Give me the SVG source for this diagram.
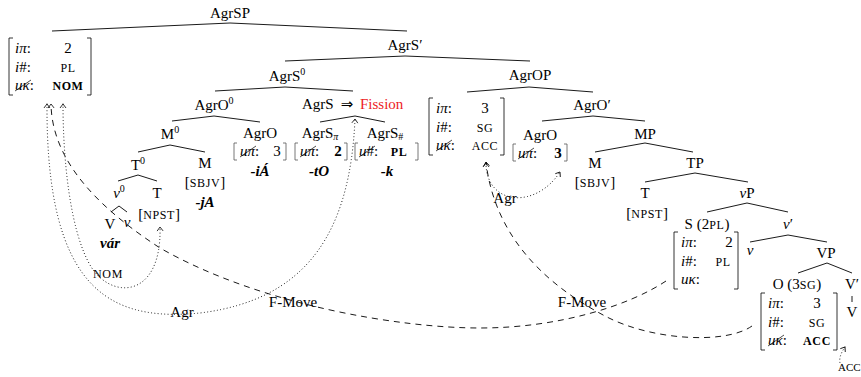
<svg xmlns="http://www.w3.org/2000/svg" width="861" height="377" viewBox="0 0 861 377">
<style>
text{font-family:'Liberation Serif','DejaVu Serif',serif;font-size:15px;fill:#000}
.m{text-anchor:middle}
.s{text-anchor:start}
.sc{font-size:12px;letter-spacing:0.6px}
.it{font-style:italic}
.bf{font-weight:bold}
.sup{font-size:10px}
.arr{font-family:'DejaVu Sans',sans-serif;font-size:15px}
.br{fill:none;stroke:#000;stroke-width:0.8}
.ib{fill:none;stroke:#555;stroke-width:0.8}
.cx{stroke:#000;stroke-width:0.7}
.e{fill:none;stroke:#000;stroke-width:0.9}
.dot{fill:none;stroke:#000;stroke-width:1;stroke-dasharray:0.1 3.2;stroke-linecap:round}
.dash{fill:none;stroke:#000;stroke-width:0.9;stroke-dasharray:6 5}
.red{fill:#ed1c24}
</style>
<defs>
<marker id="ah" markerUnits="userSpaceOnUse" markerWidth="12" markerHeight="12" viewBox="-6 -6 12 12" refX="0" refY="0" orient="auto-start-reverse" overflow="visible">
<path d="M-4,-3 L0,0 L-4,3" fill="none" stroke="#000" stroke-width="0.8" stroke-dasharray="none"/>
</marker>
</defs>

<g id="connectors">
<polyline class="e" points="52,31 230,23 407,31"/>
<polyline class="e" points="285,61 405,56 530,61"/>
<polyline class="e" points="215,91 285,87 353,91"/>
<polyline class="e" points="467,92 529,87 593,92"/>
<polyline class="e" points="172,121 214,116 260,122"/>
<polyline class="e" points="320,122 355,116 385,122"/>
<polyline class="e" points="542,121 593,116 645,121"/>
<polyline class="e" points="138,152 170,145 205,152"/>
<polyline class="e" points="595,152 645,143 693,152"/>
<polyline class="e" points="118,181 138,175 157,181"/>
<polyline class="e" points="645,182 695,173 748,182"/>
<polyline class="e" points="111,212 119,206 127,212"/>
<polyline class="e" points="707,212 747,203 788,212"/>
<polyline class="e" points="750,242 788,235 827,242"/>
<polyline class="e" points="798,273 827,263 852,273"/>
<line class="e" x1="852" y1="296" x2="852" y2="302"/>

<path class="dash" d="M666,281 C630,305 560,328 480,328 C400,328 260,305 160,248 C105,212 52,165 51,104" marker-end="url(#ah)"/>
<path class="dash" d="M752,326 C725,345 650,340 605,316 C550,287 495,240 486,162" marker-end="url(#ah)"/>
<path class="dot" d="M47,104 C46,290 110,322 200,313 C305,300 350,235 355,119" marker-start="url(#ah)" marker-end="url(#ah)"/>
<path class="dot" d="M63,104 C63,160 70,230 90,265 C110,300 162,300 160,227" marker-start="url(#ah)" marker-end="url(#ah)"/>
<path class="dot" d="M486,163 C486,205 535,210 560,172" marker-start="url(#ah)" marker-end="url(#ah)"/>
<path class="dot" d="M845,347 C841,353 839,358 840,363" marker-start="url(#ah)"/>

<text class="m sc" x="108" y="278">NOM</text>
<text class="m" x="182" y="317">Agr</text>
<text class="m" x="293" y="307">F-Move</text>
<text class="m" x="505" y="203">Agr</text>
<text class="m" x="582" y="307">F-Move</text>
<text class="s" x="838" y="371" style="font-size:11px;letter-spacing:0">ACC</text>
</g>

<g id="n-agrsp"><text class="m" x="230" y="18">AgrSP</text></g>

<g id="n-subj-feat">
<path class="br" d="M13,38 H9 V95 H13 M87,38 H91 V95 H87"/>
<text class="s" x="15" y="53"><tspan class="it">iπ</tspan>:</text>
<text class="m" x="68" y="53">2</text>
<text class="s" x="15" y="71.5"><tspan class="it">i</tspan>#:</text>
<text class="m sc" x="68" y="71.5">PL</text>
<text class="s" x="15" y="90"><tspan class="it">uκ</tspan>:</text>
<line class="cx" x1="15" y1="91" x2="31" y2="80"/>
<text class="m sc bf" x="68" y="90">NOM</text>
</g>

<g id="n-agrsbar"><text class="m" x="405" y="50">AgrS′</text></g>
<g id="n-agrs0"><text class="m" x="287" y="81">AgrS<tspan class="sup" dy="-6">0</tspan></text></g>
<g id="n-agrop"><text class="m" x="530" y="80">AgrOP</text></g>

<g id="n-agro0"><text class="m" x="214" y="110">AgrO<tspan class="sup" dy="-6">0</tspan></text></g>
<g id="n-agrs-fission">
<text class="s" x="302" y="109">AgrS</text>
<text class="m arr" x="347" y="109">⇒</text>
<text class="s red" x="360" y="109">Fission</text>
</g>

<g id="n-obj-feat">
<path class="br" d="M433,98 H429 V155 H433 M500,98 H504 V155 H500"/>
<text class="s" x="436" y="113"><tspan class="it">iπ</tspan>:</text>
<text class="m" x="485" y="113">3</text>
<text class="s" x="436" y="131.5"><tspan class="it">i</tspan>#:</text>
<text class="m sc" x="485" y="131.5">SG</text>
<text class="s" x="436" y="150"><tspan class="it">uκ</tspan>:</text>
<line class="cx" x1="436" y1="151" x2="452" y2="140"/>
<text class="m sc" x="485" y="150">ACC</text>
</g>

<g id="n-agrobar"><text class="m" x="592" y="110">AgrO′</text></g>

<g id="n-m0"><text class="m" x="170" y="139">M<tspan class="sup" dy="-6">0</tspan></text></g>

<g id="n-agro-l">
<text class="m" x="260" y="138">AgrO</text>
<path class="ib" d="M237,143 H234 V160 H237 M283,143 H286 V160 H283"/>
<text class="s" x="240" y="156"><tspan class="it">uπ</tspan>:</text>
<line class="cx" x1="240" y1="157" x2="256" y2="146"/>
<text class="m" x="277" y="156">3</text>
<text class="m it bf" x="260" y="176">-iÁ</text>
</g>

<g id="n-agrs-pi">
<text class="m" x="320" y="138">AgrS<tspan class="it sup" dy="2">π</tspan></text>
<path class="ib" d="M298,143 H295 V160 H298 M344,143 H347 V160 H344"/>
<text class="s" x="300" y="156"><tspan class="it">uπ</tspan>:</text>
<line class="cx" x1="300" y1="157" x2="316" y2="146"/>
<text class="m bf" x="338" y="156">2</text>
<text class="m it bf" x="319" y="176">-tO</text>
</g>

<g id="n-agrs-num">
<text class="m" x="385" y="138">AgrS<tspan class="sup" dy="2">#</tspan></text>
<path class="ib" d="M358,143 H355 V160 H358 M415,143 H418 V160 H415"/>
<text class="s" x="359" y="156"><tspan class="it">u</tspan>#:</text>
<line class="cx" x1="359" y1="157" x2="375" y2="146"/>
<text class="m sc bf" x="399" y="156">PL</text>
<text class="m it bf" x="387" y="176">-k</text>
</g>

<g id="n-agro-r">
<text class="m" x="540" y="140">AgrO</text>
<path class="ib" d="M516,144 H513 V161 H516 M564,144 H567 V161 H564"/>
<text class="s" x="518" y="158"><tspan class="it">uπ</tspan>:</text>
<line class="cx" x1="518" y1="159" x2="534" y2="148"/>
<text class="m bf" x="558" y="158">3</text>
</g>

<g id="n-mp"><text class="m" x="645" y="139">MP</text></g>

<g id="n-t0"><text class="m" x="138" y="170">T<tspan class="sup" dy="-6">0</tspan></text></g>

<g id="n-m-l">
<text class="m" x="205" y="168">M</text>
<text class="m" x="205" y="187">[<tspan class="sc">SBJV</tspan>]</text>
<text class="m it bf" x="205" y="207">-jA</text>
</g>

<g id="n-m-r">
<text class="m" x="595" y="168">M</text>
<text class="m" x="595" y="187">[<tspan class="sc">SBJV</tspan>]</text>
</g>

<g id="n-tp"><text class="m" x="695" y="168">TP</text></g>

<g id="n-v0"><text class="m" x="119" y="198"><tspan class="it">v</tspan><tspan class="sup" dy="-6">0</tspan></text></g>

<g id="n-t-l">
<text class="m" x="157" y="198">T</text>
<text class="m" x="159" y="219">[<tspan class="sc">NPST</tspan>]</text>
</g>

<g id="n-t-r">
<text class="m" x="645" y="198">T</text>
<text class="m" x="647" y="218">[<tspan class="sc">NPST</tspan>]</text>
</g>

<g id="n-vp-small"><text class="m" x="747" y="198"><tspan class="it">v</tspan>P</text></g>

<g id="n-V-l">
<text class="m" x="110" y="229">V</text>
<text class="m bf it" x="110" y="248">vár</text>
</g>
<g id="n-v-l"><text class="m it" x="127" y="227">v</text></g>

<g id="n-subj">
<text class="m" x="707" y="229">S (2<tspan class="sc">PL</tspan>)</text>
<path class="br" d="M678,232 H674 V289 H678 M734,232 H738 V289 H734"/>
<text class="s" x="681" y="247"><tspan class="it">iπ</tspan>:</text>
<text class="m" x="729" y="247">2</text>
<text class="s" x="681" y="265.5"><tspan class="it">i</tspan>#:</text>
<text class="m sc" x="723" y="265.5">PL</text>
<text class="s" x="681" y="284"><tspan class="it">uκ</tspan>:</text>
</g>

<g id="n-vbar"><text class="m" x="788" y="229"><tspan class="it">v</tspan>′</text></g>
<g id="n-v-r"><text class="m it" x="750" y="255">v</text></g>
<g id="n-VP"><text class="m" x="826" y="258">VP</text></g>

<g id="n-obj">
<text class="m" x="797" y="289">O (3<tspan class="sc">SG</tspan>)</text>
<path class="br" d="M765,293 H761 V350 H765 M833,293 H837 V350 H833"/>
<text class="s" x="768" y="308"><tspan class="it">iπ</tspan>:</text>
<text class="m" x="817" y="308">3</text>
<text class="s" x="768" y="326.5"><tspan class="it">i</tspan>#:</text>
<text class="m sc" x="817" y="326.5">SG</text>
<text class="s" x="768" y="345"><tspan class="it">uκ</tspan>:</text>
<line class="cx" x1="768" y1="346" x2="784" y2="335"/>
<text class="m sc bf" x="817" y="345">ACC</text>
</g>

<g id="n-Vbar"><text class="m" x="852" y="289">V′</text></g>
<g id="n-V-r"><text class="m" x="852" y="317">V</text></g>
</svg>
